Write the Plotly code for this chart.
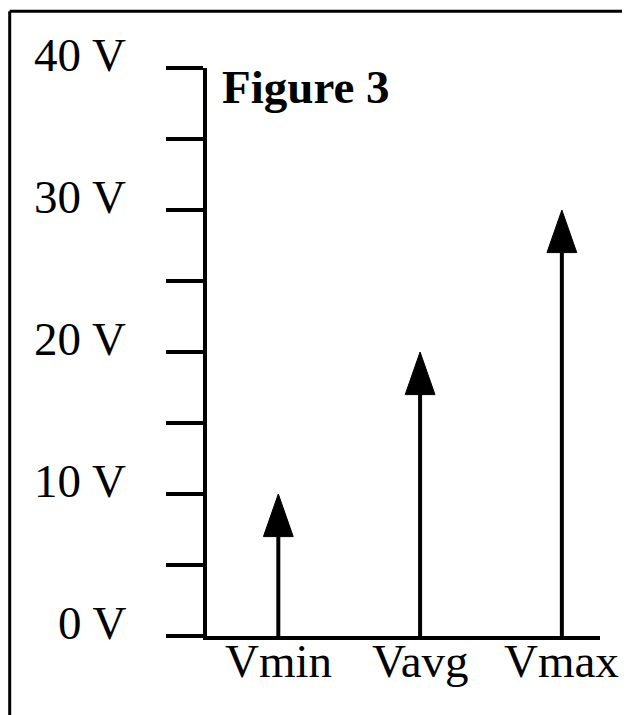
import plotly.graph_objects as go

categories = ["Vmin", "Vavg", "Vmax"]
values = [10, 20, 30]
tick_values = [0, 10, 20, 30, 40]
tick_labels = ["0 V", "10 V", "20 V", "30 V", "40 V"]
title_text = "Figure 3"

OFF = 8  # page body margin
W, H = 630 - OFF, 715 - OFF
AX_X, AX_Y0, AX_Y40, RIGHT = 205, 636.5, 67.5, 600  # reference pixel positions
LW = 4
L = AX_X - OFF + LW / 2
T = AX_Y40 - OFF
B = H - (AX_Y0 - OFF)
R = W - (RIGHT - OFF)
pw, ph = W - L - R, H - T - B

def px_x(p):
    return (p - OFF - L) / pw

def px_y(p):
    return (H - B - (p - OFF)) / ph

head_h = 3.0   # volts
head_dx = 0.105  # category units

fig = go.Figure()
pos = list(range(len(categories)))
for i, v in zip(pos, values):
    fig.add_trace(go.Scatter(x=[i, i], y=[0, v - head_h], mode="lines",
                             line=dict(color="black", width=4), hoverinfo="skip"))
    fig.add_trace(go.Scatter(x=[i - head_dx, i, i + head_dx, i - head_dx],
                             y=[v - head_h, v, v - head_h, v - head_h],
                             mode="lines", fill="toself", fillcolor="black",
                             line=dict(color="black", width=1), hoverinfo="skip"))

lab_font = dict(family="Liberation Serif", size=47, color="black")
annotations = []
for tv, tl in zip(tick_values, tick_labels):
    annotations.append(dict(x=px_x(128), xref="paper", y=tv, yref="y",
                            text=tl, showarrow=False, xanchor="right", yanchor="bottom",
                            yshift=-15, font=lab_font))
for i, c in zip(pos, categories):
    annotations.append(dict(x=i, xref="x", y=0, yref="y", text=c, showarrow=False,
                            xanchor="center", yanchor="top", yshift=3, font=lab_font))
annotations.append(dict(x=px_x(220), xref="paper", y=px_y(58.5), yref="paper",
                        text="<b>" + title_text + "</b>", showarrow=False,
                        xanchor="left", yanchor="top",
                        font=dict(family="Liberation Serif", size=47, color="black")))

shapes = [
    dict(type="line", xref="paper", yref="paper", x0=px_x(9.7), x1=px_x(640),
         y0=px_y(10.7), y1=px_y(10.7), line=dict(color="black", width=3)),
    dict(type="line", xref="paper", yref="paper", x0=px_x(9.7), x1=px_x(9.7),
         y0=px_y(10.7), y1=px_y(730), line=dict(color="black", width=3)),
]

fig.update_layout(
    width=W, height=H, margin=dict(l=L, r=R, t=T, b=B, pad=0),
    paper_bgcolor="white", plot_bgcolor="white", showlegend=False,
    annotations=annotations, shapes=shapes,
    xaxis=dict(range=[-0.503, 2.269], tickvals=pos, showticklabels=False,
               showline=True, linecolor="black", linewidth=LW, ticks="",
               showgrid=False, zeroline=False),
    yaxis=dict(range=[0, 40], dtick=5, tick0=0, showline=True, linecolor="black",
               linewidth=LW, ticks="outside", ticklen=37, tickwidth=4,
               tickcolor="black", showticklabels=False, showgrid=False, zeroline=False),
)
fig.write_html("out.html")
